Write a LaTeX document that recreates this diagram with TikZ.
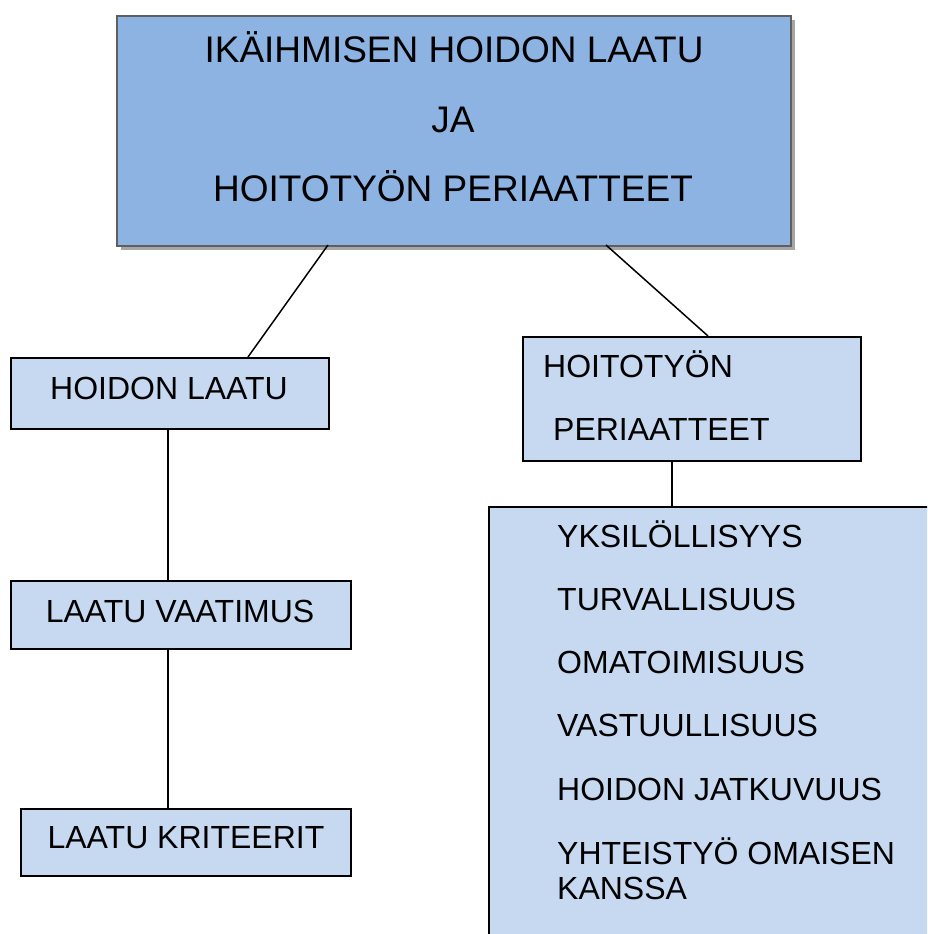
\documentclass[tikz,border=0pt]{standalone}
\usepackage{fontspec}
\setmainfont{Liberation Sans}
\definecolor{topfill}{HTML}{8DB3E2}
\definecolor{boxfill}{HTML}{C6D9F1}
\definecolor{topborder}{HTML}{5F5F5F}
\definecolor{shadowgray}{HTML}{A6A6A6}
\begin{document}
\begin{tikzpicture}[x=1pt,y=-1pt,
  boxstyle/.style={draw=black,line width=2pt,fill=boxfill,rectangle,inner sep=0pt,anchor=north west},
  topstyle/.style={draw=topborder,line width=2.2pt,fill=topfill,rectangle,inner sep=0pt,anchor=north west},
  txt/.style={anchor=base,inner sep=0pt,font=\fontsize{32}{38}\selectfont},
  txtl/.style={anchor=base west,inner sep=0pt,font=\fontsize{32}{38}\selectfont},
  toptxt/.style={anchor=base,inner sep=0pt,font=\fontsize{37}{44}\selectfont},
  conn/.style={draw=black,line width=1.5pt}]
\useasboundingbox (0,0) rectangle (927,934);
\clip (0,0) rectangle (927,934);
\fill[white] (0,0) rectangle (927,934);
% shadow of top box
\fill[shadowgray] (121,20) rectangle (795,250);
% boxes
\node[topstyle,minimum width=674pt,minimum height=230pt] (top) at (116,15) {};
\node[boxstyle,minimum width=318pt,minimum height=71pt] (hl) at (10,357) {};
\node[boxstyle,minimum width=340pt,minimum height=68pt] (lv) at (10,580) {};
\node[boxstyle,minimum width=330pt,minimum height=67pt] (lk) at (20,808) {};
\node[boxstyle,minimum width=338pt,minimum height=124pt] (hp) at (522,336) {};
\node[boxstyle,minimum width=460pt,minimum height=450pt] (list) at (488,506) {};
% connectors
\coordinate (t1) at (328,245);
\coordinate (t2) at (606,245);
\draw[conn] (t1) -- (hl.north -| 248,0);
\draw[conn] (t2) -- (hp.north -| 708,0);
\draw[conn] (hl.south -| 168,0) -- (lv.north -| 168,0);
\draw[conn] (lv.south -| 168,0) -- (lk.north -| 168,0);
\draw[conn] (hp.south -| 672,0) -- (list.north -| 672,0);
% texts
\node[toptxt] (ta) at (454,63) {IKÄIHMISEN HOIDON LAATU};
\node[toptxt] (tb) at (453,132) {JA};
\node[toptxt] (tc) at (453,201) {HOITOTYÖN PERIAATTEET};
\node[txt] (hlt) at (169,399) {HOIDON LAATU};
\node[txt] (lvt) at (180,622) {LAATU VAATIMUS};
\node[txt] (lkt) at (186,848) {LAATU KRITEERIT};
\node[txtl] (hpa) at (543,377) {HOITOTYÖN};
\node[txtl] (hpb) at (553,440) {PERIAATTEET};
\node[txtl] (l1) at (557,547) {YKSILÖLLISYYS};
\node[txtl] (l2) at (557,610) {TURVALLISUUS};
\node[txtl] (l3) at (557,673) {OMATOIMISUUS};
\node[txtl] (l4) at (557,736) {VASTUULLISUUS};
\node[txtl] (l5) at (557,800) {HOIDON JATKUVUUS};
\node[txtl] (l6) at (557,864) {YHTEISTYÖ OMAISEN};
\node[txtl] (l7) at (557,899) {KANSSA};
\end{tikzpicture}
\end{document}
